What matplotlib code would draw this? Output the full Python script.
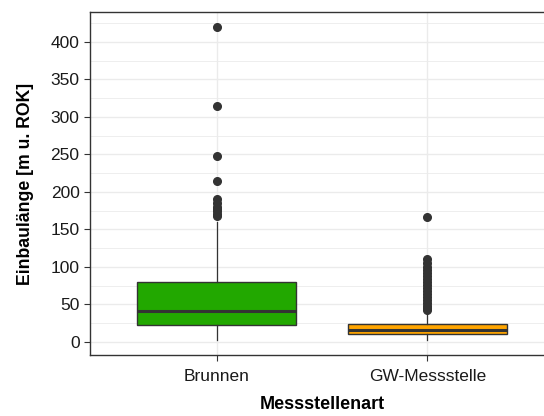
import matplotlib
matplotlib.use("Agg")
import matplotlib.pyplot as plt
from matplotlib.ticker import MultipleLocator

plt.rcParams['font.family'] = ['Liberation Sans', 'DejaVu Sans']

# values (m u. ROK)
categories = ["Brunnen", "GW-Messstelle"]
colors = ["#22a800", "#ffa500"]
q1 = [22, 10]
median = [41, 16]
q3 = [80, 24]
whisker_low = [3, 3]
whisker_high = [160, 40]
outliers_brunnen = [420, 315, 248, 215, 190, 185, 180, 177, 174, 171, 168]
outliers_gw = [167, 110, 105, 100, 96, 92, 88, 84, 80, 76, 72, 68, 64, 60,
               56, 52, 48, 45, 42]

stats = []
for i, name in enumerate(categories):
    stats.append({
        "label": name,
        "q1": q1[i], "med": median[i], "q3": q3[i],
        "whislo": whisker_low[i], "whishi": whisker_high[i],
        "fliers": outliers_brunnen if i == 0 else outliers_gw,
    })

fig = plt.figure(figsize=(5.44, 4.16), dpi=100)
# the panel runs past the right edge of the picture, as in the reference
ax = fig.add_axes([0.1654, 0.1466, 0.853, 0.8246])

bp = ax.bxp(stats, positions=[1, 2], widths=0.75, patch_artist=True,
            showcaps=False,
            boxprops=dict(edgecolor="#333333", linewidth=1.0),
            medianprops=dict(color="#333333", linewidth=2.2),
            whiskerprops=dict(color="#333333", linewidth=0.9),
            flierprops=dict(marker="o", markerfacecolor="#333333",
                            markeredgecolor="#333333", markersize=5.5))
for patch, c in zip(bp["boxes"], colors):
    patch.set_facecolor(c)

ax.set_xlim(0.4, 2.6)
ax.set_ylim(-17.5, 440)
ax.yaxis.set_major_locator(MultipleLocator(50))
ax.yaxis.set_minor_locator(MultipleLocator(25))
ax.set_axisbelow(True)
ax.grid(which="major", color="#ebebeb", linewidth=1.0)
ax.grid(which="minor", axis="y", color="#ebebeb", linewidth=0.6)
ax.tick_params(which="minor", length=0)
ax.tick_params(which="major", length=4, color="#333333", labelsize=12.5,
               labelcolor="#1a1a1a")
ax.tick_params(axis="x", pad=6)
for s in ax.spines.values():
    s.set_color("#333333")
    s.set_linewidth(1.0)

ax.set_xlabel("Messstellenart", fontsize=13, fontweight="bold", labelpad=9)
ax.set_ylabel("Einbaulänge [m u. ROK]", fontsize=12.7, fontweight="bold",
              labelpad=12)

fig.savefig("out.png", dpi=100)
